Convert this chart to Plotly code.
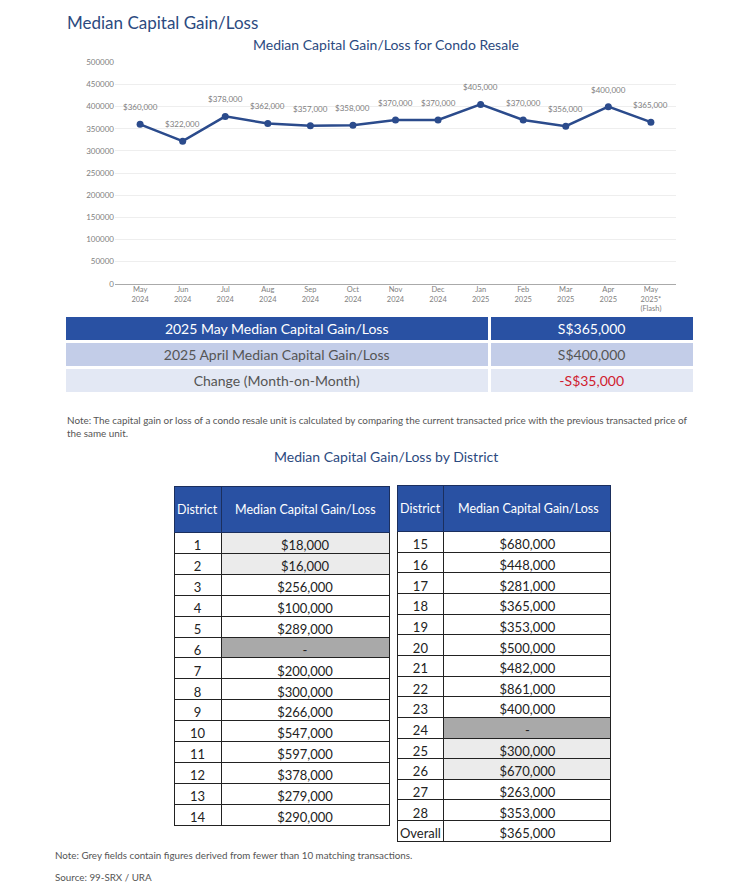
import plotly.graph_objects as go

# ---------------- data ----------------
month_ticks = ["May<br>2024", "Jun<br>2024", "Jul<br>2024", "Aug<br>2024", "Sep<br>2024",
               "Oct<br>2024", "Nov<br>2024", "Dec<br>2024", "Jan<br>2025", "Feb<br>2025",
               "Mar<br>2025", "Apr<br>2025", "May<br>2025*<br>(Flash)"]
median_gain = [360000, 322000, 378000, 362000, 357000, 358000, 370000, 370000,
               405000, 370000, 356000, 400000, 365000]
y_ticks = [0, 50000, 100000, 150000, 200000, 250000, 300000, 350000, 400000, 450000, 500000]

summary_labels = ["2025 May Median Capital Gain/Loss",
                  "2025 April Median Capital Gain/Loss",
                  "Change (Month-on-Month)"]
summary_values = ["S$365,000", "S$400,000", "-S$35,000"]

districts_left = ["1", "2", "3", "4", "5", "6", "7", "8", "9", "10", "11", "12", "13", "14"]
values_left = ["$18,000", "$16,000", "$256,000", "$100,000", "$289,000", "-", "$200,000",
               "$300,000", "$266,000", "$547,000", "$597,000", "$378,000", "$279,000", "$290,000"]
shade_left = ["light", "light", "", "", "", "dark", "", "", "", "", "", "", "", ""]

districts_right = ["15", "16", "17", "18", "19", "20", "21", "22", "23", "24", "25", "26",
                   "27", "28", "Overall"]
values_right = ["$680,000", "$448,000", "$281,000", "$365,000", "$353,000", "$500,000",
                "$482,000", "$861,000", "$400,000", "-", "$300,000", "$670,000",
                "$263,000", "$353,000", "$365,000"]
shade_right = ["", "", "", "", "", "", "", "", "", "dark", "light", "light", "", "", ""]

table_header = ["District", "Median Capital Gain/Loss"]

# ---------------- styling ----------------
W, H = 750, 887
FONT = "Lato"
NAVY = "#2c4a80"
LINE = "#2b4b8c"
HEAD = "#2951a3"
GREY_TXT = "#808080"
shade_col = {"": "white", "light": "#ebebeb", "dark": "#a9a9a9"}


def px_x(x):
    return x / W


def px_y(y):
    return 1 - y / H


fig = go.Figure()

fig.add_trace(go.Scatter(
    x=month_ticks, y=median_gain, mode="lines+markers",
    line=dict(color=LINE, width=2.5), marker=dict(color=LINE, size=7),
    hoverinfo="skip", showlegend=False,
))

for m, v in zip(month_ticks, median_gain):
    fig.add_annotation(x=m, y=v, text=f"${v:,}", showarrow=False, yshift=17,
                       font=dict(family=FONT, size=8, color=GREY_TXT))

# summary table
fig.add_trace(go.Table(
    domain=dict(x=[px_x(64), px_x(694)], y=[px_y(398), px_y(314)]),
    columnwidth=[424, 204],
    header=dict(values=[summary_labels[0], summary_values[0]],
                fill_color=HEAD, line=dict(color="white", width=3),
                font=dict(family=FONT, size=14, color="white"),
                align="center", height=26),
    cells=dict(values=[summary_labels[1:], summary_values[1:]],
               fill_color=[["#c3cde8", "#e3e8f4"], ["#c3cde8", "#e3e8f4"]],
               line=dict(color="white", width=3),
               font=dict(family=FONT, size=14,
                         color=[["#555555", "#555555"], ["#555555", "#d0202e"]]),
               align="center", height=26),
))


def district_table(x0, x1, y0, y1, dists, vals, shades, row_h):
    fig.add_trace(go.Table(
        domain=dict(x=[px_x(x0), px_x(x1)], y=[px_y(y1), px_y(y0)]),
        columnwidth=[47, 168],
        header=dict(values=["", ""], fill_color=HEAD,
                    line=dict(color="#1b2f5e", width=1),
                    font=dict(family=FONT, size=12, color="white"),
                    align="center", height=46),
        cells=dict(values=[dists, vals],
                   fill_color=[["white"] * len(dists), [shade_col[s] for s in shades]],
                   line=dict(color="#222222", width=1),
                   font=dict(family=FONT, size=13, color="#222222"),
                   align="center", height=row_h),
    ))
    # header labels centred vertically in the 46px header band
    xm = x0 + (x1 - x0) * 47 / 215
    for label, xc in zip(table_header, [(x0 + xm) / 2, (xm + x1) / 2]):
        fig.add_annotation(x=px_x(xc), y=px_y(y0 + 23), xref="paper", yref="paper",
                           xanchor="center", yanchor="middle", showarrow=False,
                           text=label, font=dict(family=FONT, size=12.5, color="white"))


district_table(174, 389, 487, 840, districts_left, values_left, shade_left, 20.9)
district_table(397, 612, 486, 850, districts_right, values_right, shade_right, 20.65)

# texts
fig.add_annotation(x=px_x(65), y=px_y(18), xref="paper", yref="paper", xanchor="left",
                   yanchor="middle", showarrow=False, text="Median Capital Gain/Loss",
                   font=dict(family=FONT, size=17, color=NAVY))
fig.add_annotation(x=px_x(386), y=px_y(40), xref="paper", yref="paper", xanchor="center",
                   yanchor="middle", showarrow=False,
                   text="Median Capital Gain/Loss for Condo Resale",
                   font=dict(family=FONT, size=14, color=NAVY))
fig.add_annotation(x=px_x(65), y=px_y(426), xref="paper", yref="paper", xanchor="left",
                   yanchor="middle", align="left", showarrow=False,
                   text="Note: The capital gain or loss of a condo resale unit is calculated by comparing the current transacted price with the previous transacted price of<br>the same unit.",
                   font=dict(family=FONT, size=9.9, color="#555555"))
fig.add_annotation(x=px_x(386), y=px_y(457), xref="paper", yref="paper", xanchor="center",
                   yanchor="middle", showarrow=False,
                   text="Median Capital Gain/Loss by District",
                   font=dict(family=FONT, size=14, color=NAVY))
fig.add_annotation(x=px_x(53), y=px_y(860), xref="paper", yref="paper", xanchor="left",
                   yanchor="middle", showarrow=False,
                   text="Note: Grey fields contain figures derived from fewer than 10 matching transactions.",
                   font=dict(family=FONT, size=9.8, color="#555555"))
fig.add_annotation(x=px_x(53), y=px_y(882), xref="paper", yref="paper", xanchor="left",
                   yanchor="middle", showarrow=False, text="Source: 99-SRX / URA",
                   font=dict(family=FONT, size=9.8, color="#555555"))

fig.update_layout(
    width=W, height=H, margin=dict(l=0, r=0, t=0, b=0),
    paper_bgcolor="white", plot_bgcolor="white",
    font=dict(family=FONT),
    xaxis=dict(domain=[px_x(115), px_x(676)], type="category",
               range=[-0.59, 12.59], showgrid=False, showline=True,
               linecolor="#aaaaaa", linewidth=1, ticks="", ticklabelstandoff=-2,
               tickfont=dict(family=FONT, size=7.5, color=GREY_TXT), fixedrange=True),
    yaxis=dict(domain=[px_y(282), px_y(58)], range=[0, 500000], tickvals=y_ticks,
               tickformat="d", showgrid=True, gridcolor="#eeeeee", zeroline=False,
               showline=False, tickfont=dict(family=FONT, size=8, color=GREY_TXT),
               fixedrange=True),
)

fig.write_html("out.html", config={"displayModeBar": False},
               post_script="document.body.style.margin='0px';")
